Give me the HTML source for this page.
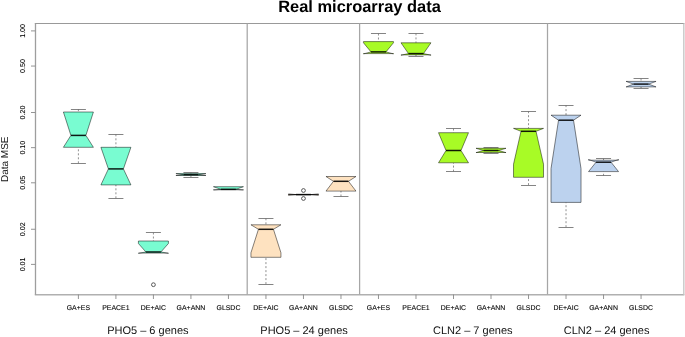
<!DOCTYPE html>
<html><head><meta charset="utf-8"><style>
html,body{margin:0;padding:0;background:#fff;}
svg{display:block;font-family:"Liberation Sans",sans-serif;will-change:transform;text-rendering:geometricPrecision;}
</style></head><body>
<svg width="685" height="337" viewBox="0 0 685 337">
<rect width="685" height="337" fill="#fff"/>
<line x1="34.8" y1="23.5" x2="684.4" y2="23.5" stroke="#999" stroke-width="1.15"/>
<line x1="34.8" y1="294.75" x2="684.4" y2="294.75" stroke="#b0b0b0" stroke-width="1.45"/>
<line x1="35.5" y1="23.5" x2="35.5" y2="294.75" stroke="#9e9e9e" stroke-width="1.3"/>
<line x1="683.8" y1="23.5" x2="683.8" y2="294.75" stroke="#c8c8c8" stroke-width="1.4"/>
<line x1="247.20" y1="23.5" x2="247.20" y2="294.5" stroke="#a6a6a6" stroke-width="1.25"/>
<line x1="359.60" y1="23.5" x2="359.60" y2="294.5" stroke="#a6a6a6" stroke-width="1.25"/>
<line x1="547.50" y1="23.5" x2="547.50" y2="294.5" stroke="#a6a6a6" stroke-width="1.25"/>
<line x1="78.40" y1="109.1" x2="78.40" y2="112.0" stroke="#555" stroke-width="0.65" stroke-dasharray="2,2"/>
<line x1="78.40" y1="163.3" x2="78.40" y2="147.3" stroke="#555" stroke-width="0.65" stroke-dasharray="2,2"/>
<line x1="70.90" y1="109.5" x2="85.90" y2="109.5" stroke="#6e6e6e" stroke-width="0.85"/>
<line x1="70.90" y1="163.5" x2="85.90" y2="163.5" stroke="#6e6e6e" stroke-width="0.85"/>
<polygon points="63.40,147.30 93.40,147.30 93.40,147.30 85.90,135.40 93.40,112.00 93.40,112.00 63.40,112.00 63.40,112.00 70.90,135.40 63.40,147.30" fill="#79FCD1" stroke="rgba(0,0,0,0.62)" stroke-width="0.78" stroke-linejoin="round"/>
<line x1="70.90" y1="135.4" x2="85.90" y2="135.4" stroke="rgba(0,0,0,0.9)" stroke-width="1.5"/>
<line x1="78.40" y1="294.5" x2="78.40" y2="299.0" stroke="#888" stroke-width="0.9"/>
<text x="78.40" y="309.9" font-size="6.95" text-anchor="middle" fill="#000" stroke="#000" stroke-width="0.18" stroke-opacity="0.5">GA+ES</text>
<line x1="115.91" y1="134.3" x2="115.91" y2="147.3" stroke="#555" stroke-width="0.65" stroke-dasharray="2,2"/>
<line x1="115.91" y1="198.3" x2="115.91" y2="184.9" stroke="#555" stroke-width="0.65" stroke-dasharray="2,2"/>
<line x1="108.41" y1="134.5" x2="123.41" y2="134.5" stroke="#6e6e6e" stroke-width="0.85"/>
<line x1="108.41" y1="198.5" x2="123.41" y2="198.5" stroke="#6e6e6e" stroke-width="0.85"/>
<polygon points="100.91,184.90 130.91,184.90 130.91,184.90 123.41,168.90 130.91,147.30 130.91,147.30 100.91,147.30 100.91,147.30 108.41,168.90 100.91,184.90" fill="#79FCD1" stroke="rgba(0,0,0,0.62)" stroke-width="0.78" stroke-linejoin="round"/>
<line x1="108.41" y1="168.9" x2="123.41" y2="168.9" stroke="rgba(0,0,0,0.9)" stroke-width="1.5"/>
<line x1="115.91" y1="294.5" x2="115.91" y2="299.0" stroke="#888" stroke-width="0.9"/>
<text x="115.91" y="309.9" font-size="6.95" text-anchor="middle" fill="#000" stroke="#000" stroke-width="0.18" stroke-opacity="0.5">PEACE1</text>
<line x1="153.42" y1="232.5" x2="153.42" y2="241.0" stroke="#555" stroke-width="0.65" stroke-dasharray="2,2"/>
<line x1="145.92" y1="232.5" x2="160.92" y2="232.5" stroke="#6e6e6e" stroke-width="0.85"/>
<polygon points="138.42,253.10 168.42,253.10 168.42,253.30 160.92,252.00 168.42,243.50 168.42,241.00 138.42,241.00 138.42,243.50 145.92,252.00 138.42,253.30" fill="#79FCD1" stroke="rgba(0,0,0,0.62)" stroke-width="0.78" stroke-linejoin="round"/>
<line x1="145.92" y1="252.0" x2="160.92" y2="252.0" stroke="rgba(0,0,0,0.9)" stroke-width="1.5"/>
<circle cx="153.42" cy="284.7" r="1.9" fill="none" stroke="#333" stroke-width="0.8"/>
<line x1="153.42" y1="294.5" x2="153.42" y2="299.0" stroke="#888" stroke-width="0.9"/>
<text x="153.42" y="309.9" font-size="6.95" text-anchor="middle" fill="#000" stroke="#000" stroke-width="0.18" stroke-opacity="0.5">DE+AIC</text>
<line x1="190.93" y1="172.3" x2="190.93" y2="173.6" stroke="#555" stroke-width="0.65" stroke-dasharray="2,2"/>
<line x1="190.93" y1="177.2" x2="190.93" y2="175.5" stroke="#555" stroke-width="0.65" stroke-dasharray="2,2"/>
<line x1="183.43" y1="172.5" x2="198.43" y2="172.5" stroke="#6e6e6e" stroke-width="0.85"/>
<line x1="183.43" y1="177.5" x2="198.43" y2="177.5" stroke="#6e6e6e" stroke-width="0.85"/>
<polygon points="175.93,175.50 205.93,175.50 205.93,175.50 198.43,174.70 205.93,173.60 205.93,173.60 175.93,173.60 175.93,173.60 183.43,174.70 175.93,175.50" fill="#79FCD1" stroke="rgba(0,0,0,0.62)" stroke-width="0.78" stroke-linejoin="round"/>
<line x1="183.43" y1="174.7" x2="198.43" y2="174.7" stroke="rgba(0,0,0,0.9)" stroke-width="1.5"/>
<line x1="190.93" y1="294.5" x2="190.93" y2="299.0" stroke="#888" stroke-width="0.9"/>
<text x="190.93" y="309.9" font-size="6.95" text-anchor="middle" fill="#000" stroke="#000" stroke-width="0.18" stroke-opacity="0.5">GA+ANN</text>
<polygon points="213.44,189.80 243.44,189.80 243.44,190.00 235.94,189.30 243.44,186.70 243.44,186.70 213.44,186.70 213.44,186.70 220.94,189.30 213.44,190.00" fill="#79FCD1" stroke="rgba(0,0,0,0.62)" stroke-width="0.78" stroke-linejoin="round"/>
<line x1="220.94" y1="189.3" x2="235.94" y2="189.3" stroke="rgba(0,0,0,0.9)" stroke-width="1.5"/>
<line x1="228.44" y1="294.5" x2="228.44" y2="299.0" stroke="#888" stroke-width="0.9"/>
<text x="228.44" y="309.9" font-size="6.95" text-anchor="middle" fill="#000" stroke="#000" stroke-width="0.18" stroke-opacity="0.5">GLSDC</text>
<line x1="265.95" y1="218.3" x2="265.95" y2="224.8" stroke="#555" stroke-width="0.65" stroke-dasharray="2,2"/>
<line x1="265.95" y1="284.1" x2="265.95" y2="257.3" stroke="#555" stroke-width="0.65" stroke-dasharray="2,2"/>
<line x1="258.45" y1="218.5" x2="273.45" y2="218.5" stroke="#6e6e6e" stroke-width="0.85"/>
<line x1="258.45" y1="284.5" x2="273.45" y2="284.5" stroke="#6e6e6e" stroke-width="0.85"/>
<polygon points="250.95,257.30 280.95,257.30 280.95,252.80 273.45,229.30 280.95,224.80 280.95,224.80 250.95,224.80 250.95,224.80 258.45,229.30 250.95,252.80" fill="#FEE2C0" stroke="rgba(0,0,0,0.62)" stroke-width="0.78" stroke-linejoin="round"/>
<line x1="258.45" y1="229.3" x2="273.45" y2="229.3" stroke="rgba(0,0,0,0.9)" stroke-width="1.5"/>
<line x1="265.95" y1="294.5" x2="265.95" y2="299.0" stroke="#888" stroke-width="0.9"/>
<text x="265.95" y="309.9" font-size="6.95" text-anchor="middle" fill="#000" stroke="#000" stroke-width="0.18" stroke-opacity="0.5">DE+AIC</text>
<polygon points="288.46,194.70 318.46,194.70 318.46,195.30 310.96,194.60 318.46,193.90 318.46,194.50 288.46,194.50 288.46,193.90 295.96,194.60 288.46,195.30" fill="#FEE2C0" stroke="rgba(0,0,0,0.62)" stroke-width="0.78" stroke-linejoin="round"/>
<line x1="295.96" y1="194.6" x2="310.96" y2="194.6" stroke="rgba(0,0,0,0.9)" stroke-width="1.5"/>
<circle cx="303.46" cy="190.5" r="1.9" fill="none" stroke="#333" stroke-width="0.8"/>
<circle cx="303.46" cy="198.5" r="1.9" fill="none" stroke="#333" stroke-width="0.8"/>
<line x1="303.46" y1="294.5" x2="303.46" y2="299.0" stroke="#888" stroke-width="0.9"/>
<text x="303.46" y="309.9" font-size="6.95" text-anchor="middle" fill="#000" stroke="#000" stroke-width="0.18" stroke-opacity="0.5">GA+ANN</text>
<line x1="340.97" y1="196.5" x2="340.97" y2="191.1" stroke="#555" stroke-width="0.65" stroke-dasharray="2,2"/>
<line x1="333.47" y1="196.5" x2="348.47" y2="196.5" stroke="#6e6e6e" stroke-width="0.85"/>
<polygon points="325.97,191.10 355.97,191.10 355.97,191.10 348.47,181.30 355.97,176.50 355.97,176.50 325.97,176.50 325.97,176.50 333.47,181.30 325.97,191.10" fill="#FEE2C0" stroke="rgba(0,0,0,0.62)" stroke-width="0.78" stroke-linejoin="round"/>
<line x1="333.47" y1="181.3" x2="348.47" y2="181.3" stroke="rgba(0,0,0,0.9)" stroke-width="1.5"/>
<line x1="340.97" y1="294.5" x2="340.97" y2="299.0" stroke="#888" stroke-width="0.9"/>
<text x="340.97" y="309.9" font-size="6.95" text-anchor="middle" fill="#000" stroke="#000" stroke-width="0.18" stroke-opacity="0.5">GLSDC</text>
<line x1="378.48" y1="33.5" x2="378.48" y2="41.6" stroke="#555" stroke-width="0.65" stroke-dasharray="2,2"/>
<line x1="370.98" y1="33.5" x2="385.98" y2="33.5" stroke="#6e6e6e" stroke-width="0.85"/>
<polygon points="363.48,53.60 393.48,53.60 393.48,53.90 385.98,51.90 393.48,42.80 393.48,41.60 363.48,41.60 363.48,42.80 370.98,51.90 363.48,53.90" fill="#A8FB26" stroke="rgba(0,0,0,0.62)" stroke-width="0.78" stroke-linejoin="round"/>
<line x1="370.98" y1="51.9" x2="385.98" y2="51.9" stroke="rgba(0,0,0,0.9)" stroke-width="1.5"/>
<line x1="378.48" y1="294.5" x2="378.48" y2="299.0" stroke="#888" stroke-width="0.9"/>
<text x="378.48" y="309.9" font-size="6.95" text-anchor="middle" fill="#000" stroke="#000" stroke-width="0.18" stroke-opacity="0.5">GA+ES</text>
<line x1="415.99" y1="33.4" x2="415.99" y2="42.8" stroke="#555" stroke-width="0.65" stroke-dasharray="2,2"/>
<line x1="415.99" y1="56.2" x2="415.99" y2="54.9" stroke="#555" stroke-width="0.65" stroke-dasharray="2,2"/>
<line x1="408.49" y1="33.5" x2="423.49" y2="33.5" stroke="#6e6e6e" stroke-width="0.85"/>
<line x1="408.49" y1="56.5" x2="423.49" y2="56.5" stroke="#6e6e6e" stroke-width="0.85"/>
<polygon points="400.99,54.90 430.99,54.90 430.99,55.20 423.49,53.60 430.99,42.80 430.99,42.80 400.99,42.80 400.99,42.80 408.49,53.60 400.99,55.20" fill="#A8FB26" stroke="rgba(0,0,0,0.62)" stroke-width="0.78" stroke-linejoin="round"/>
<line x1="408.49" y1="53.6" x2="423.49" y2="53.6" stroke="rgba(0,0,0,0.9)" stroke-width="1.5"/>
<line x1="415.99" y1="294.5" x2="415.99" y2="299.0" stroke="#888" stroke-width="0.9"/>
<text x="415.99" y="309.9" font-size="6.95" text-anchor="middle" fill="#000" stroke="#000" stroke-width="0.18" stroke-opacity="0.5">PEACE1</text>
<line x1="453.50" y1="128.5" x2="453.50" y2="132.7" stroke="#555" stroke-width="0.65" stroke-dasharray="2,2"/>
<line x1="453.50" y1="171.6" x2="453.50" y2="162.8" stroke="#555" stroke-width="0.65" stroke-dasharray="2,2"/>
<line x1="446.00" y1="128.5" x2="461.00" y2="128.5" stroke="#6e6e6e" stroke-width="0.85"/>
<line x1="446.00" y1="171.5" x2="461.00" y2="171.5" stroke="#6e6e6e" stroke-width="0.85"/>
<polygon points="438.50,162.80 468.50,162.80 468.50,162.80 461.00,150.50 468.50,132.70 468.50,132.70 438.50,132.70 438.50,132.70 446.00,150.50 438.50,162.80" fill="#A8FB26" stroke="rgba(0,0,0,0.62)" stroke-width="0.78" stroke-linejoin="round"/>
<line x1="446.00" y1="150.5" x2="461.00" y2="150.5" stroke="rgba(0,0,0,0.9)" stroke-width="1.5"/>
<line x1="453.50" y1="294.5" x2="453.50" y2="299.0" stroke="#888" stroke-width="0.9"/>
<text x="453.50" y="309.9" font-size="6.95" text-anchor="middle" fill="#000" stroke="#000" stroke-width="0.18" stroke-opacity="0.5">DE+AIC</text>
<line x1="491.01" y1="147.5" x2="491.01" y2="148.3" stroke="#555" stroke-width="0.65" stroke-dasharray="2,2"/>
<line x1="491.01" y1="153.2" x2="491.01" y2="152.5" stroke="#555" stroke-width="0.65" stroke-dasharray="2,2"/>
<line x1="483.51" y1="147.5" x2="498.51" y2="147.5" stroke="#6e6e6e" stroke-width="0.85"/>
<line x1="483.51" y1="153.5" x2="498.51" y2="153.5" stroke="#6e6e6e" stroke-width="0.85"/>
<polygon points="476.01,152.50 506.01,152.50 506.01,152.60 498.51,150.50 506.01,148.30 506.01,148.30 476.01,148.30 476.01,148.30 483.51,150.50 476.01,152.60" fill="#A8FB26" stroke="rgba(0,0,0,0.62)" stroke-width="0.78" stroke-linejoin="round"/>
<line x1="483.51" y1="150.5" x2="498.51" y2="150.5" stroke="rgba(0,0,0,0.9)" stroke-width="1.5"/>
<line x1="491.01" y1="294.5" x2="491.01" y2="299.0" stroke="#888" stroke-width="0.9"/>
<text x="491.01" y="309.9" font-size="6.95" text-anchor="middle" fill="#000" stroke="#000" stroke-width="0.18" stroke-opacity="0.5">GA+ANN</text>
<line x1="528.52" y1="111.2" x2="528.52" y2="128.4" stroke="#555" stroke-width="0.65" stroke-dasharray="2,2"/>
<line x1="528.52" y1="185.1" x2="528.52" y2="177.3" stroke="#555" stroke-width="0.65" stroke-dasharray="2,2"/>
<line x1="521.02" y1="111.5" x2="536.02" y2="111.5" stroke="#6e6e6e" stroke-width="0.85"/>
<line x1="521.02" y1="185.5" x2="536.02" y2="185.5" stroke="#6e6e6e" stroke-width="0.85"/>
<polygon points="513.52,177.30 543.52,177.30 543.52,164.20 536.02,131.30 543.52,128.40 543.52,128.40 513.52,128.40 513.52,128.40 521.02,131.30 513.52,164.20" fill="#A8FB26" stroke="rgba(0,0,0,0.62)" stroke-width="0.78" stroke-linejoin="round"/>
<line x1="521.02" y1="131.3" x2="536.02" y2="131.3" stroke="rgba(0,0,0,0.9)" stroke-width="1.5"/>
<line x1="528.52" y1="294.5" x2="528.52" y2="299.0" stroke="#888" stroke-width="0.9"/>
<text x="528.52" y="309.9" font-size="6.95" text-anchor="middle" fill="#000" stroke="#000" stroke-width="0.18" stroke-opacity="0.5">GLSDC</text>
<line x1="566.03" y1="105.1" x2="566.03" y2="115.2" stroke="#555" stroke-width="0.65" stroke-dasharray="2,2"/>
<line x1="566.03" y1="227.2" x2="566.03" y2="202.4" stroke="#555" stroke-width="0.65" stroke-dasharray="2,2"/>
<line x1="558.53" y1="105.5" x2="573.53" y2="105.5" stroke="#6e6e6e" stroke-width="0.85"/>
<line x1="558.53" y1="227.5" x2="573.53" y2="227.5" stroke="#6e6e6e" stroke-width="0.85"/>
<polygon points="551.03,202.40 581.03,202.40 581.03,168.60 573.53,120.20 581.03,115.20 581.03,115.20 551.03,115.20 551.03,115.20 558.53,120.20 551.03,168.60" fill="#BCD2EE" stroke="rgba(0,0,0,0.62)" stroke-width="0.78" stroke-linejoin="round"/>
<line x1="558.53" y1="120.2" x2="573.53" y2="120.2" stroke="rgba(0,0,0,0.9)" stroke-width="1.5"/>
<line x1="566.03" y1="294.5" x2="566.03" y2="299.0" stroke="#888" stroke-width="0.9"/>
<text x="566.03" y="309.9" font-size="6.95" text-anchor="middle" fill="#000" stroke="#000" stroke-width="0.18" stroke-opacity="0.5">DE+AIC</text>
<line x1="603.54" y1="158.5" x2="603.54" y2="160.2" stroke="#555" stroke-width="0.65" stroke-dasharray="2,2"/>
<line x1="603.54" y1="175.8" x2="603.54" y2="171.6" stroke="#555" stroke-width="0.65" stroke-dasharray="2,2"/>
<line x1="596.04" y1="158.5" x2="611.04" y2="158.5" stroke="#6e6e6e" stroke-width="0.85"/>
<line x1="596.04" y1="175.5" x2="611.04" y2="175.5" stroke="#6e6e6e" stroke-width="0.85"/>
<polygon points="588.54,171.60 618.54,171.60 618.54,171.60 611.04,162.20 618.54,159.50 618.54,160.20 588.54,160.20 588.54,159.50 596.04,162.20 588.54,171.60" fill="#BCD2EE" stroke="rgba(0,0,0,0.62)" stroke-width="0.78" stroke-linejoin="round"/>
<line x1="596.04" y1="162.2" x2="611.04" y2="162.2" stroke="rgba(0,0,0,0.9)" stroke-width="1.5"/>
<line x1="603.54" y1="294.5" x2="603.54" y2="299.0" stroke="#888" stroke-width="0.9"/>
<text x="603.54" y="309.9" font-size="6.95" text-anchor="middle" fill="#000" stroke="#000" stroke-width="0.18" stroke-opacity="0.5">GA+ANN</text>
<line x1="641.05" y1="78.5" x2="641.05" y2="81.4" stroke="#555" stroke-width="0.65" stroke-dasharray="2,2"/>
<line x1="641.05" y1="88.3" x2="641.05" y2="86.9" stroke="#555" stroke-width="0.65" stroke-dasharray="2,2"/>
<line x1="633.55" y1="78.5" x2="648.55" y2="78.5" stroke="#6e6e6e" stroke-width="0.85"/>
<line x1="633.55" y1="88.5" x2="648.55" y2="88.5" stroke="#6e6e6e" stroke-width="0.85"/>
<polygon points="626.05,86.90 656.05,86.90 656.05,86.90 648.55,84.10 656.05,81.40 656.05,81.40 626.05,81.40 626.05,81.40 633.55,84.10 626.05,86.90" fill="#BCD2EE" stroke="rgba(0,0,0,0.62)" stroke-width="0.78" stroke-linejoin="round"/>
<line x1="633.55" y1="84.1" x2="648.55" y2="84.1" stroke="rgba(0,0,0,0.9)" stroke-width="1.5"/>
<line x1="641.05" y1="294.5" x2="641.05" y2="299.0" stroke="#888" stroke-width="0.9"/>
<text x="641.05" y="309.9" font-size="6.95" text-anchor="middle" fill="#000" stroke="#000" stroke-width="0.18" stroke-opacity="0.5">GLSDC</text>
<line x1="31" y1="30.90" x2="35.3" y2="30.90" stroke="#888" stroke-width="0.9"/>
<text transform="translate(25.2,30.90) rotate(-90)" font-size="7.1" text-anchor="middle" fill="#000" stroke="#000" stroke-width="0.18" stroke-opacity="0.5">1.00</text>
<line x1="31" y1="66.05" x2="35.3" y2="66.05" stroke="#888" stroke-width="0.9"/>
<text transform="translate(25.2,66.05) rotate(-90)" font-size="7.1" text-anchor="middle" fill="#000" stroke="#000" stroke-width="0.18" stroke-opacity="0.5">0.50</text>
<line x1="31" y1="112.50" x2="35.3" y2="112.50" stroke="#888" stroke-width="0.9"/>
<text transform="translate(25.2,112.50) rotate(-90)" font-size="7.1" text-anchor="middle" fill="#000" stroke="#000" stroke-width="0.18" stroke-opacity="0.5">0.20</text>
<line x1="31" y1="147.65" x2="35.3" y2="147.65" stroke="#888" stroke-width="0.9"/>
<text transform="translate(25.2,147.65) rotate(-90)" font-size="7.1" text-anchor="middle" fill="#000" stroke="#000" stroke-width="0.18" stroke-opacity="0.5">0.10</text>
<line x1="31" y1="182.80" x2="35.3" y2="182.80" stroke="#888" stroke-width="0.9"/>
<text transform="translate(25.2,182.80) rotate(-90)" font-size="7.1" text-anchor="middle" fill="#000" stroke="#000" stroke-width="0.18" stroke-opacity="0.5">0.05</text>
<line x1="31" y1="229.25" x2="35.3" y2="229.25" stroke="#888" stroke-width="0.9"/>
<text transform="translate(25.2,229.25) rotate(-90)" font-size="7.1" text-anchor="middle" fill="#000" stroke="#000" stroke-width="0.18" stroke-opacity="0.5">0.02</text>
<line x1="31" y1="264.40" x2="35.3" y2="264.40" stroke="#888" stroke-width="0.9"/>
<text transform="translate(25.2,264.40) rotate(-90)" font-size="7.1" text-anchor="middle" fill="#000" stroke="#000" stroke-width="0.18" stroke-opacity="0.5">0.01</text>
<text transform="translate(8.2,159.3) rotate(-90)" font-size="10" text-anchor="middle" fill="#111">Data MSE</text>
<text x="359.5" y="12" font-size="16.45" font-weight="bold" text-anchor="middle" fill="#000">Real microarray data</text>
<text x="107.2" y="333.9" font-size="11" fill="#111">PHO5 – 6 genes</text>
<text x="260.3" y="333.9" font-size="11" fill="#111">PHO5 – 24 genes</text>
<text x="433.0" y="333.9" font-size="11" fill="#111">CLN2 – 7 genes</text>
<text x="563.8" y="333.9" font-size="11" fill="#111">CLN2 – 24 genes</text>
</svg>
</body></html>
